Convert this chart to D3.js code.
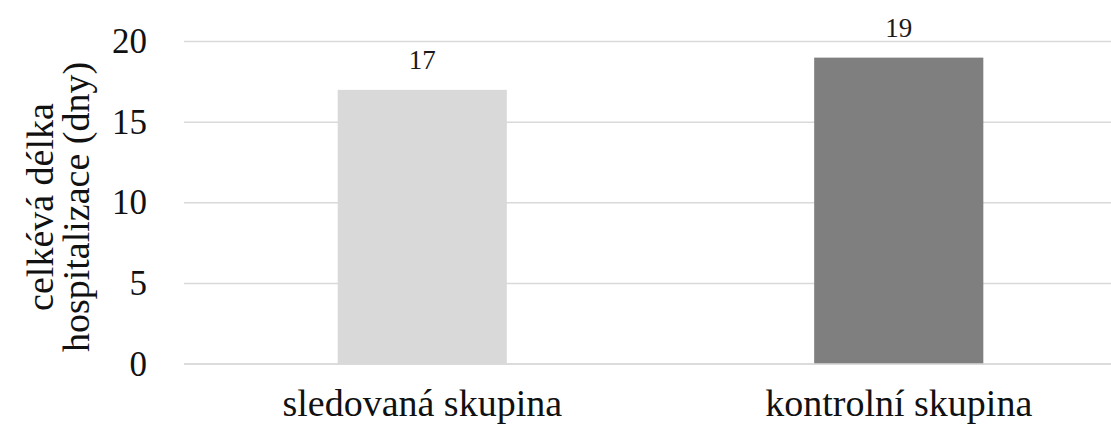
<!DOCTYPE html>
<html><head><meta charset="utf-8">
<script src="https://cdn.jsdelivr.net/npm/d3@7"></script>
<style>body{margin:0;background:#fff}svg{display:block}</style>
</head><body>
<svg id="c" width="1111" height="426"></svg>
<script>
const categories = ["sledovaná skupina", "kontrolní skupina"];
const values = [17, 19];
const barColors = ["#d9d9d9", "#7f7f7f"];
const yTicks = [0, 5, 10, 15, 20];
const yTitleLines = ["celkévá délka", "hospitalizace (dny)"];

const svg = d3.select("#c");
const font = "'Liberation Serif', 'Times New Roman', serif";
const x = d3.scaleBand().domain(categories).range([184, 1137]).paddingInner(0.645).paddingOuter(0.3225);
const y = d3.scaleLinear().domain([0, 20]).range([364, 41.5]);

// gridlines
svg.append("g").selectAll("line").data(yTicks).join("line")
  .attr("x1", 184).attr("x2", 1111)
  .attr("y1", d => y(d)).attr("y2", d => y(d))
  .attr("stroke", "#d9d9d9").attr("stroke-width", 1.5);

// y tick labels
svg.append("g").selectAll("text").data(yTicks).join("text")
  .attr("x", 147).attr("y", d => y(d) + 11.5)
  .attr("text-anchor", "end").attr("font-family", font).attr("font-size", 35).attr("fill", "#111")
  .text(d => d);

// bars
svg.append("g").selectAll("rect").data(values).join("rect")
  .attr("x", (d, i) => x(categories[i])).attr("width", x.bandwidth())
  .attr("y", d => y(d)).attr("height", d => y(0) - y(d))
  .attr("fill", (d, i) => barColors[i]);

// redraw zero line over bars
svg.append("line").attr("x1", 184).attr("x2", 1111).attr("y1", y(0)).attr("y2", y(0))
  .attr("stroke", "#d9d9d9").attr("stroke-width", 1.5);

// value labels
svg.append("g").selectAll("text").data(values).join("text")
  .attr("x", (d, i) => x(categories[i]) + x.bandwidth() / 2)
  .attr("y", d => y(d) - 21)
  .attr("text-anchor", "middle").attr("font-family", font).attr("font-size", 27).attr("fill", "#1a1a1a")
  .text(d => d);

// category labels
svg.append("g").selectAll("text").data(categories).join("text")
  .attr("x", d => x(d) + x.bandwidth() / 2).attr("y", 416)
  .attr("text-anchor", "middle").attr("font-family", font).attr("font-size", 38).attr("fill", "#111")
  .text(d => d);

// y title
const yt = svg.append("text").attr("transform", "translate(53,207) rotate(-90)")
  .attr("text-anchor", "middle").attr("font-family", font).attr("font-size", 38).attr("fill", "#111");
yTitleLines.forEach((t, i) => yt.append("tspan").attr("x", 0).attr("dy", i === 0 ? 0 : 36).text(t));
</script>
</body></html>
